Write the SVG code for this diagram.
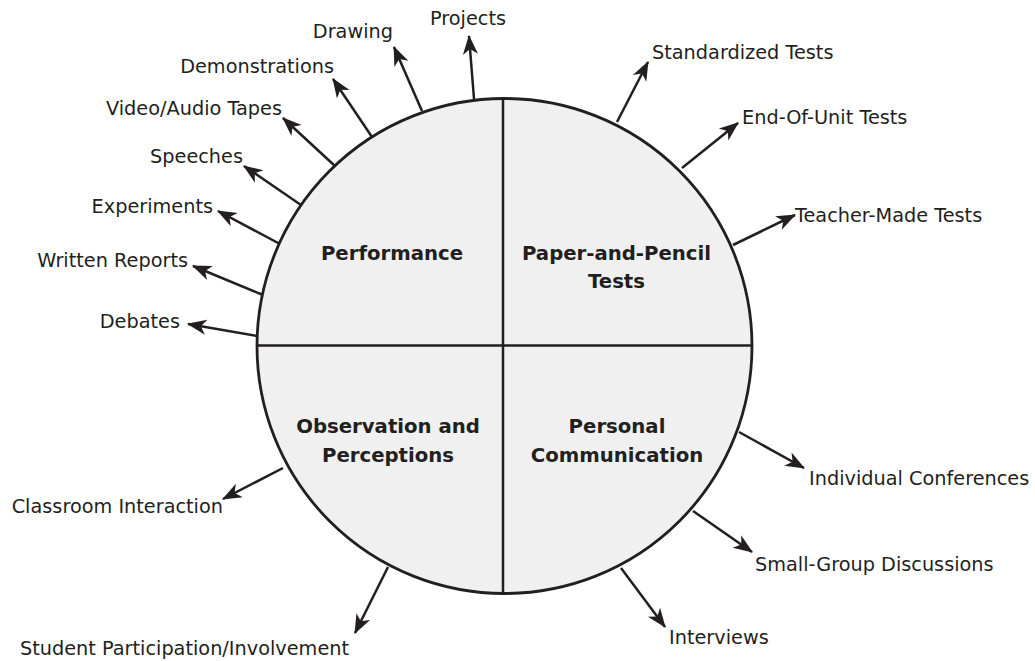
<svg xmlns="http://www.w3.org/2000/svg" width="1035" height="661" viewBox="0 0 1035 661">
<defs>
<marker id="ah" markerUnits="userSpaceOnUse" markerWidth="26" markerHeight="26" viewBox="-20 -10 24 20" refX="0" refY="0" orient="auto">
<path d="M1,0 L-17,-7 L-12,0 L-17,7 Z" fill="#231f20"/>
</marker>
<style>
.lbl{font-family:"DejaVu Sans",sans-serif;font-size:19.3px;fill:#231f20}
.ttl{font-family:"DejaVu Sans",sans-serif;font-size:19.7px;font-weight:bold;fill:#231f20;text-anchor:middle}
.arr{stroke:#231f20;stroke-width:2.5;fill:none;marker-end:url(#ah)}
.div{stroke:#231f20;stroke-width:2.5}
</style>
</defs>
<rect width="1035" height="661" fill="#ffffff"/>
<g id="circle">
<circle cx="504.5" cy="346" r="247.5" fill="#f0f0f0" stroke="#231f20" stroke-width="2.8"/>
<line class="div" x1="503" y1="98.5" x2="503" y2="593.5"/>
<line class="div" x1="257" y1="345.5" x2="752" y2="345.5"/>
</g>
<g id="connectors">
<line class="arr" x1="474" y1="99" x2="469" y2="36"/>
<line class="arr" x1="422" y1="111" x2="394" y2="47"/>
<line class="arr" x1="372" y1="137" x2="333" y2="79"/>
<line class="arr" x1="335" y1="166" x2="283" y2="118"/>
<line class="arr" x1="301" y1="205" x2="244" y2="166"/>
<line class="arr" x1="280" y1="244" x2="218" y2="211"/>
<line class="arr" x1="263" y1="295" x2="193" y2="266"/>
<line class="arr" x1="257" y1="336" x2="188" y2="324"/>
<line class="arr" x1="617" y1="122" x2="648" y2="62"/>
<line class="arr" x1="682" y1="168" x2="738" y2="123"/>
<line class="arr" x1="733" y1="245" x2="795" y2="215"/>
<line class="arr" x1="739" y1="432" x2="804" y2="468"/>
<line class="arr" x1="693" y1="511" x2="752" y2="552"/>
<line class="arr" x1="621" y1="568" x2="665" y2="627"/>
<line class="arr" x1="283" y1="468" x2="223" y2="499"/>
<line class="arr" x1="388" y1="567" x2="355" y2="633"/>
</g>
<g id="performance"><text class="ttl" x="392" y="260">Performance</text></g>
<g id="paper-pencil"><text class="ttl" x="616.5" y="260">Paper-and-Pencil</text><text class="ttl" x="616.5" y="288">Tests</text></g>
<g id="observation"><text class="ttl" x="388" y="433">Observation and</text><text class="ttl" x="388" y="462">Perceptions</text></g>
<g id="personal"><text class="ttl" x="617" y="433">Personal</text><text class="ttl" x="617" y="462">Communication</text></g>
<g id="projects"><text class="lbl" x="468" y="25" text-anchor="middle">Projects</text></g>
<g id="drawing"><text class="lbl" x="393" y="37.5" text-anchor="end">Drawing</text></g>
<g id="demonstrations"><text class="lbl" x="334" y="72.5" text-anchor="end">Demonstrations</text></g>
<g id="video"><text class="lbl" x="282" y="115" text-anchor="end">Video/Audio Tapes</text></g>
<g id="speeches"><text class="lbl" x="243" y="163" text-anchor="end">Speeches</text></g>
<g id="experiments"><text class="lbl" x="213" y="212.5" text-anchor="end">Experiments</text></g>
<g id="written"><text class="lbl" x="188" y="267" text-anchor="end">Written Reports</text></g>
<g id="debates"><text class="lbl" x="180" y="328" text-anchor="end">Debates</text></g>
<g id="standardized"><text class="lbl" x="652" y="59">Standardized Tests</text></g>
<g id="endofunit"><text class="lbl" x="742" y="124">End-Of-Unit Tests</text></g>
<g id="teachermade"><text class="lbl" x="795" y="222">Teacher-Made Tests</text></g>
<g id="individual"><text class="lbl" x="809" y="485">Individual Conferences</text></g>
<g id="smallgroup"><text class="lbl" x="755" y="570.5">Small-Group Discussions</text></g>
<g id="interviews"><text class="lbl" x="669" y="644">Interviews</text></g>
<g id="classroom"><text class="lbl" x="223" y="513" text-anchor="end">Classroom Interaction</text></g>
<g id="student"><text class="lbl" x="184.5" y="655" text-anchor="middle">Student Participation/Involvement</text></g>
</svg>
